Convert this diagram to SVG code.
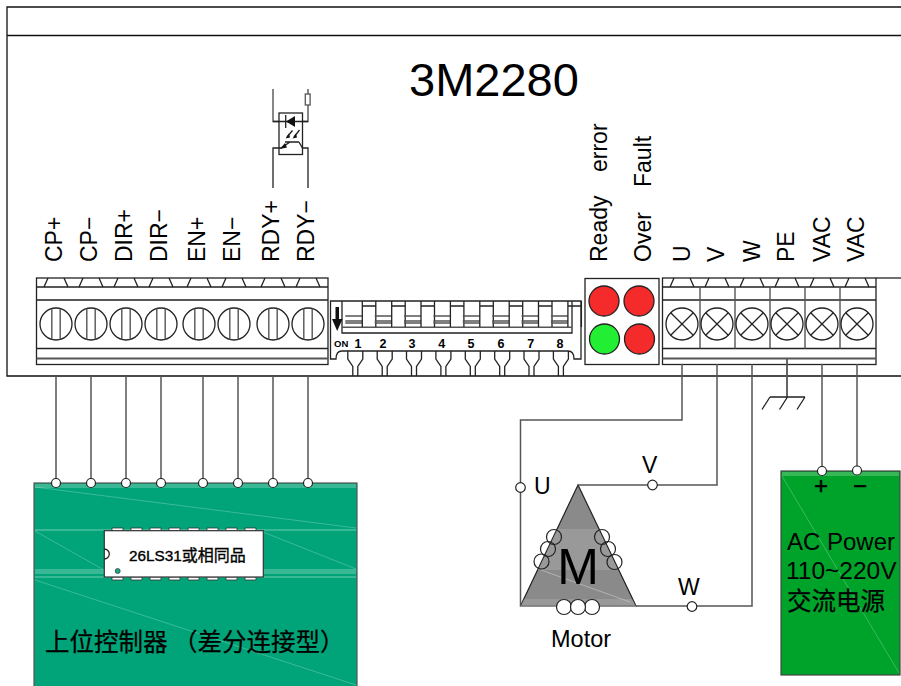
<svg xmlns="http://www.w3.org/2000/svg" xmlns:xlink="http://www.w3.org/1999/xlink" width="901" height="686" viewBox="0 0 901 686">
<style>
.f{font-family:"Liberation Sans","Noto Sans CJK SC",sans-serif;fill:#000}
.c{font-family:"Noto Sans CJK SC","Liberation Sans",sans-serif;fill:#000;stroke:#000;stroke-width:.25}
.l{font-size:23px}
.k{fill:none;stroke:#222;stroke-width:1.3}
.g{fill:none;stroke:#555;stroke-width:1.4}
.w{fill:none;stroke:#555;stroke-width:1.5}
.t{fill:#fff;stroke:#222;stroke-width:1.2}
.box{fill:#fff;stroke:#222;stroke-width:1.3}
.red{fill:#f52a2a;stroke:#222;stroke-width:1.3}
.grn{fill:#22ee33;stroke:#222;stroke-width:1.3}
.band{fill:#fff;opacity:.22}
.hair{stroke:#fff;stroke-width:.6;opacity:.4;fill:none}
</style>
<defs>
<g id="slot"><circle r="16" class="k"/><path d="M-4.200 -15.400V15.400M4.200 -15.400V15.400" class="g"/></g>
<g id="cross"><circle r="16" class="k"/><path d="M-11.300 -11.300L11.300 11.300M11.300 -11.300L-11.300 11.300" class="k"/></g>
<path id="tooth" d="M-12 287L-8 278M8 278L12 287" class="k"/>
<path id="lead" d="M-7.500 351V359L-2.500 366.500V376M7.500 351V359L2.500 366.500V376" class="k"/>
<g id="sw"><path d="M0 316H17M0 321H17M0 323H17" class="g"/><path d="M17 301V327M30.500 301V327M17 306H30.500" class="k"/></g>
</defs>
<rect width="901" height="686" fill="#fff"/>

<g id="frame">
<path d="M901 7H7V376H901M7 35.500H901" class="k" style="stroke:#111"/>
</g>
<text id="title" class="f" x="409" y="96" font-size="47">3M2280</text>

<g id="optocoupler">
<path d="M273 89V121.500H308V89" class="g"/>
<rect x="305.300" y="94" width="4.800" height="11" fill="#fff" stroke="#555" stroke-width="1.300"/>
<rect x="279" y="113" width="23.500" height="41.500" class="box"/>
<path d="M273 121.500H308" class="k"/>
<path d="M286 121.500L295 116V127Z" fill="#111"/>
<path d="M285.700 115V128" class="k"/>
<path d="M287 137L292.500 130.500M294 137L299.500 130" class="k"/>
<path d="M285.500 138.500L289 133.500L290 137.500ZM292.500 138.500L296 133.500L297 137.500Z" fill="#111"/>
<path d="M285 142H299M290 142L281 148H273V188M299 142L302.500 148H308V188" class="k"/>
<path d="M280 149L285 143L287 147.500Z" fill="#111"/>
</g>

<g id="terminal-left">
<rect x="36.500" y="278" width="291.500" height="86.500" class="box"/>
<path d="M36.500 287H328M36.500 300H328M36.500 348.500H328" class="k"/>
<path d="M36.500 358.500H328" class="g" style="stroke-width:2"/>
<use xlink:href="#tooth" x="56"/><use xlink:href="#tooth" x="91"/><use xlink:href="#tooth" x="126"/><use xlink:href="#tooth" x="161"/><use xlink:href="#tooth" x="199"/><use xlink:href="#tooth" x="234"/><use xlink:href="#tooth" x="273"/><use xlink:href="#tooth" x="308"/>
<use xlink:href="#slot" x="56" y="324"/><use xlink:href="#slot" x="91" y="324"/><use xlink:href="#slot" x="126" y="324"/><use xlink:href="#slot" x="161" y="324"/><use xlink:href="#slot" x="199" y="324"/><use xlink:href="#slot" x="234" y="324"/><use xlink:href="#slot" x="273" y="324"/><use xlink:href="#slot" x="308" y="324"/>
</g>

<g id="labels-left" class="f l">
<text transform="translate(62 262) rotate(-90)">CP+</text>
<text transform="translate(97 262) rotate(-90)">CP−</text>
<text transform="translate(132 262) rotate(-90)">DIR+</text>
<text transform="translate(167 262) rotate(-90)">DIR−</text>
<text transform="translate(205 262) rotate(-90)">EN+</text>
<text transform="translate(240 262) rotate(-90)">EN−</text>
<text transform="translate(279 262) rotate(-90)">RDY+</text>
<text transform="translate(314 262) rotate(-90)">RDY−</text>
</g>

<g id="dip-switch">
<path d="M342 301H330.500V359H336Q336 351 342 351H568Q574 351 574 359H581V301H342V333H572V301" class="k"/>
<path d="M342 327.300H572" class="g"/>
<use xlink:href="#sw" x="345.300"/><use xlink:href="#sw" x="374.700"/><use xlink:href="#sw" x="404"/><use xlink:href="#sw" x="433.400"/><use xlink:href="#sw" x="462.800"/><use xlink:href="#sw" x="492.200"/><use xlink:href="#sw" x="521.500"/><use xlink:href="#sw" x="550.900"/>
<path d="M335.500 307H339V319H342.500L337.200 331L332 319H335.500Z" fill="#111"/>
<use xlink:href="#lead" x="355.300"/><use xlink:href="#lead" x="384.700"/><use xlink:href="#lead" x="414"/><use xlink:href="#lead" x="443.400"/><use xlink:href="#lead" x="472.800"/><use xlink:href="#lead" x="502.200"/><use xlink:href="#lead" x="531.500"/><use xlink:href="#lead" x="560.900"/>
<text class="f" x="334" y="347" font-size="9.500" font-weight="bold">ON</text>
<g class="f" font-size="12.500" font-weight="bold" text-anchor="middle">
<text x="358" y="348">1</text><text x="383" y="348">2</text><text x="412" y="348">3</text><text x="441.700" y="348">4</text><text x="471" y="348">5</text><text x="501" y="348">6</text><text x="530.700" y="348">7</text><text x="560" y="348">8</text>
</g>
</g>

<g id="led-panel">
<rect x="585" y="278.500" width="74" height="86" class="box"/>
<circle cx="604" cy="301" r="15" class="red"/>
<circle cx="639" cy="301" r="15" class="red"/>
<circle cx="604.500" cy="339" r="15" class="grn"/>
<circle cx="639.500" cy="339" r="15" class="red"/>
</g>
<g id="labels-led" class="f l">
<text transform="translate(607 262) rotate(-90)">Ready</text>
<text transform="translate(607 172) rotate(-90)">error</text>
<text transform="translate(651 262) rotate(-90)">Over</text>
<text transform="translate(651 187) rotate(-90)">Fault</text>
</g>

<g id="terminal-right">
<rect x="662.500" y="278" width="213.500" height="86.500" class="box"/>
<path d="M662.500 287H876M662.500 300H876M662.500 348.500H876" class="k"/>
<path d="M662.500 358.500H876" class="g" style="stroke-width:2"/>
<path d="M700 287V348.500M735 287V348.500M770 287V348.500M805 287V348.500M840 287V348.500" class="g"/>
<path d="M876 278H901" class="k"/>
<use xlink:href="#tooth" x="682"/><use xlink:href="#tooth" x="717"/><use xlink:href="#tooth" x="752"/><use xlink:href="#tooth" x="787"/><use xlink:href="#tooth" x="822"/><use xlink:href="#tooth" x="857"/>
<use xlink:href="#cross" x="682" y="324"/><use xlink:href="#cross" x="717" y="324"/><use xlink:href="#cross" x="752" y="324"/><use xlink:href="#cross" x="787" y="324"/><use xlink:href="#cross" x="822" y="324"/><use xlink:href="#cross" x="857" y="324"/>
</g>
<g id="labels-right" class="f l">
<text transform="translate(690 262) rotate(-90)">U</text>
<text transform="translate(724 262) rotate(-90)">V</text>
<text transform="translate(760 262) rotate(-90)">W</text>
<text transform="translate(794 262) rotate(-90)">PE</text>
<text transform="translate(830 262) rotate(-90)">VAC</text>
<text transform="translate(864 262) rotate(-90)">VAC</text>
</g>

<g id="controller">
<rect x="34" y="483" width="323" height="204" fill="#00a478" stroke="#555" stroke-width="1.200"/>
<rect x="35" y="484" width="321" height="4" class="band"/>
<rect x="35" y="529" width="321" height="2" class="band"/>
<rect x="35" y="569" width="321" height="5" class="band"/>
<rect x="35" y="576" width="321" height="2" class="band"/>
<path d="M35 487L356 528M35 531L104 570M263 532L356 569M35 580L356 685" class="hair"/>
<g id="chip">
<path d="M112 528H123V531H112ZM131 528H142V531H131ZM150 528H161V531H150ZM169 528H180V531H169ZM188 528H199V531H188ZM207 528H218V531H207ZM226 528H237V531H226ZM245 528H256V531H245ZM112 577H123V580H112ZM131 577H142V580H131ZM150 577H161V580H150ZM169 577H180V580H169ZM188 577H199V580H188ZM207 577H218V580H207ZM226 577H237V580H226ZM245 577H256V580H245Z" fill="#fff" stroke="#333" stroke-width=".8"/>
<rect x="104.300" y="530.700" width="159" height="46.300" fill="#fff" stroke="#333" stroke-width="1.200"/>
<path d="M104.300 549A5 5 0 0 1 104.300 559" class="k"/>
<circle cx="117.700" cy="571" r="2.500" fill="#1aa98a" stroke="#333" stroke-width=".7"/>
<text class="f" x="129" y="560.500" font-size="15.300" stroke="#000" stroke-width=".35">26LS31<tspan font-family="Noto Sans CJK SC" font-size="16">或相同品</tspan></text>
</g>
<text class="c" x="45" y="651" font-size="24.500">上位控制器 （差分连接型）</text>
</g>

<g id="motor">
<path d="M578 485L520.500 606H636Z" fill="#8a8a8a" stroke="#222" stroke-width="1.200"/>
<path d="M557.500 529H598.500L618 570H538Z" fill="#a6a6a6" opacity=".55"/>
<path d="M524 599H632L636 606H520.500Z" fill="#a6a6a6" opacity=".55"/>
<path d="M541 570L630 602" stroke="#ccc" stroke-width=".6" fill="none"/>
<g fill="none" stroke="#222" stroke-width="1.200">
<circle cx="554" cy="537" r="7.500"/><circle cx="548" cy="549" r="7.500"/><circle cx="541.500" cy="561.500" r="7.500"/>
<circle cx="602" cy="537" r="7.500"/><circle cx="608" cy="549" r="7.500"/><circle cx="614.500" cy="562" r="7.500"/>
</g>
<circle cx="564" cy="607" r="7.500" class="t"/><circle cx="592" cy="607" r="7.500" class="t"/><circle cx="578" cy="607" r="7.500" class="t"/>
<text class="f" x="578" y="584" font-size="50" text-anchor="middle">M</text>
<text class="f" x="551" y="647" font-size="23.500">Motor</text>
</g>

<g id="power">
<rect x="781" y="471" width="119" height="204" fill="#00a32a" stroke="#444" stroke-width="1.200"/>
<rect x="782" y="472" width="117" height="4" class="band"/>
<path d="M782 476L899 673" class="hair"/>
<text class="f" x="821" y="494" font-size="24" text-anchor="middle" stroke="#000" stroke-width=".5">+</text>
<text class="f" x="860" y="494" font-size="24" text-anchor="middle" stroke="#000" stroke-width=".5">−</text>
<text class="f" x="787" y="550" font-size="24">AC Power</text>
<text class="f" x="786" y="579" font-size="24.500">110~220V</text>
<text class="c" x="787" y="610" font-size="24.500">交流电源</text>
</g>

<g id="connectors">
<path d="M56 376V483M91 376V483M126 376V483M161 376V483M203 376V483M238 376V483M273 376V483M308 376V483" class="w"/>
<path d="M682 364V420H520.500V606" class="w"/>
<path d="M717 364V485H578" class="w"/>
<path d="M752 364V606H636" class="w"/>
<path d="M787 358.500V397" class="w" style="stroke-width:1.800"/>
<path d="M770 397H805M770 397L762 409.500M787.500 397L779.500 409.500M805 397L797 409.500" class="k"/>
<path d="M822 364V471M857 364V470" class="w"/>
</g>
<g id="pins">
<circle cx="56" cy="483" r="4.500" class="t"/><circle cx="91" cy="483" r="4.500" class="t"/><circle cx="126" cy="483" r="4.500" class="t"/><circle cx="161" cy="483" r="4.500" class="t"/><circle cx="203" cy="483" r="4.500" class="t"/><circle cx="238" cy="483" r="4.500" class="t"/><circle cx="273" cy="483" r="4.500" class="t"/><circle cx="308" cy="483" r="4.500" class="t"/>
<circle cx="822" cy="471" r="4.500" class="t"/><circle cx="857" cy="470.500" r="4.500" class="t"/>
<circle cx="520.500" cy="487.500" r="4.800" class="t"/><circle cx="652.500" cy="485" r="4.800" class="t"/><circle cx="692" cy="606.500" r="4.800" class="t"/>
</g>
<g id="motor-labels" class="f" font-size="23">
<text x="534" y="494">U</text><text x="642" y="473">V</text><text x="678" y="595">W</text>
</g>
</svg>
